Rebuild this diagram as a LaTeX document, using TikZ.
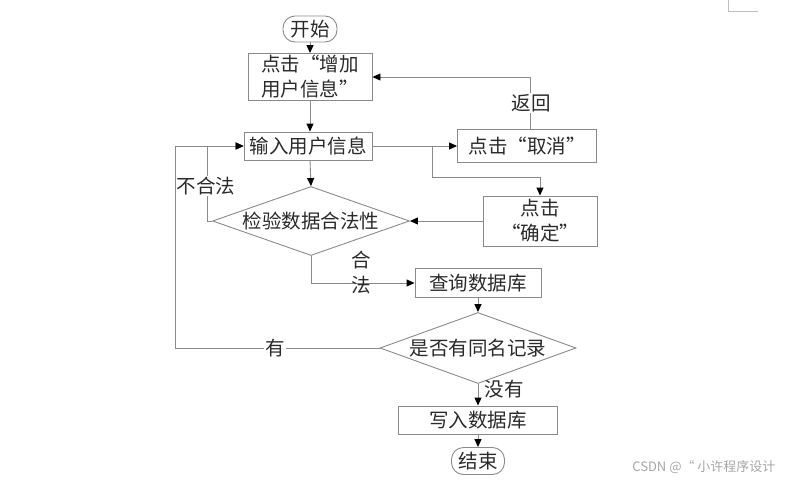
\documentclass[tikz,border=0pt]{standalone}
\usepackage{fontspec}
\setmainfont{Noto Sans CJK SC}
\usetikzlibrary{arrows.meta,shapes.geometric}
\definecolor{ln}{HTML}{8A8A8A}
\definecolor{tx}{HTML}{2A2A2A}
\begin{document}
\begin{tikzpicture}[x=1pt,y=-1pt,
  every node/.style={font=\fontsize{19.5}{25}\selectfont, text=tx},
  box/.style={draw=ln, line width=0.9pt, rectangle, inner sep=0pt, align=center},
  term/.style={draw=ln, line width=0.9pt, rectangle, rounded corners=12pt, inner sep=0pt},
  dia/.style={draw=ln, line width=0.9pt, diamond, aspect=3, inner sep=0pt},
  conn/.style={draw=ln, line width=0.9pt},
  arr/.style={conn, -{Triangle[length=8pt,width=7pt,color=black]}},
  lbl/.style={fill=white, inner sep=1pt}]
\useasboundingbox (0,0) rectangle (785,480);
% corner mark
\draw[gray!50, line width=0.8pt] (728,0) -- (728,11) -- (758,11);

\node[term, minimum width=54pt, minimum height=26pt] (start) at (310,29) {开始};
\node[box, minimum width=124pt, minimum height=47pt, align=left] (b1) at (310,77) {点击“增加\\用户信息”};
\node[box, minimum width=128pt, minimum height=28pt] (b2) at (308,146) {输入用户信息};
\node[dia, minimum width=197pt, minimum height=69pt] (d1) at (311,221) {检验数据合法性};
\node[box, minimum width=139pt, minimum height=33pt] (cancel) at (527,146) {点击“取消”};
\node[box, minimum width=114pt, minimum height=50pt] (confirm) at (540,221) {点击\\“确定”};
\node[box, minimum width=126pt, minimum height=29pt] (q) at (478,283) {查询数据库};
\node[dia, minimum width=196pt, minimum height=71pt] (d2) at (478,348) {是否有同名记录};
\node[box, minimum width=159pt, minimum height=28pt] (w) at (478,420) {写入数据库};
\node[term, minimum width=53pt, minimum height=27pt] (end) at (478,461) {结束};

\coordinate (br) at (432,146);
\coordinate (brd) at (432,177);
\coordinate (back) at (530,77);
\coordinate (bad) at (207,221);
\coordinate (yes) at (175,348);
\coordinate (ok) at (311,283);

\draw[arr] (start.south) -- (b1.north);
\draw[arr] (b1.south) -- (b1.south |- b2.north);
\draw[arr] (b1.south |- b2.south) -- (d1.north);
\draw[arr] (b2.east) -- (cancel.west);
\draw[arr] (br) -- (brd) -| (confirm.north);
\draw[arr] (confirm.west) -- (d1.east);
\draw[arr] (cancel.north -| back) -- (back) -- (b1.east);
\node[lbl] at (531,103) {返回};
\draw[arr] (d1.west) -- (bad) |- (b2.west);
\node[lbl] at (206,186) {不合法};
\draw[arr] (d2.west) -- (yes) |- (b2.west);
\node[lbl] at (275,348) {有};
\draw[arr] (d1.south) -- (ok) -- (q.west);
\node[align=center, inner sep=0pt] at (361,273) {合\\法};
\draw[arr] (q.south) -- (d2.north);
\draw[arr] (d2.south) -- (w.north);
\node at (504,389) {没有};
\draw[arr] (w.south) -- (end.north);

\node[font=\fontsize{13}{15}\selectfont, text=gray!70, anchor=east] (wm) at (779,467) {CSDN @“ 小许程序设计};
\end{tikzpicture}
\end{document}
